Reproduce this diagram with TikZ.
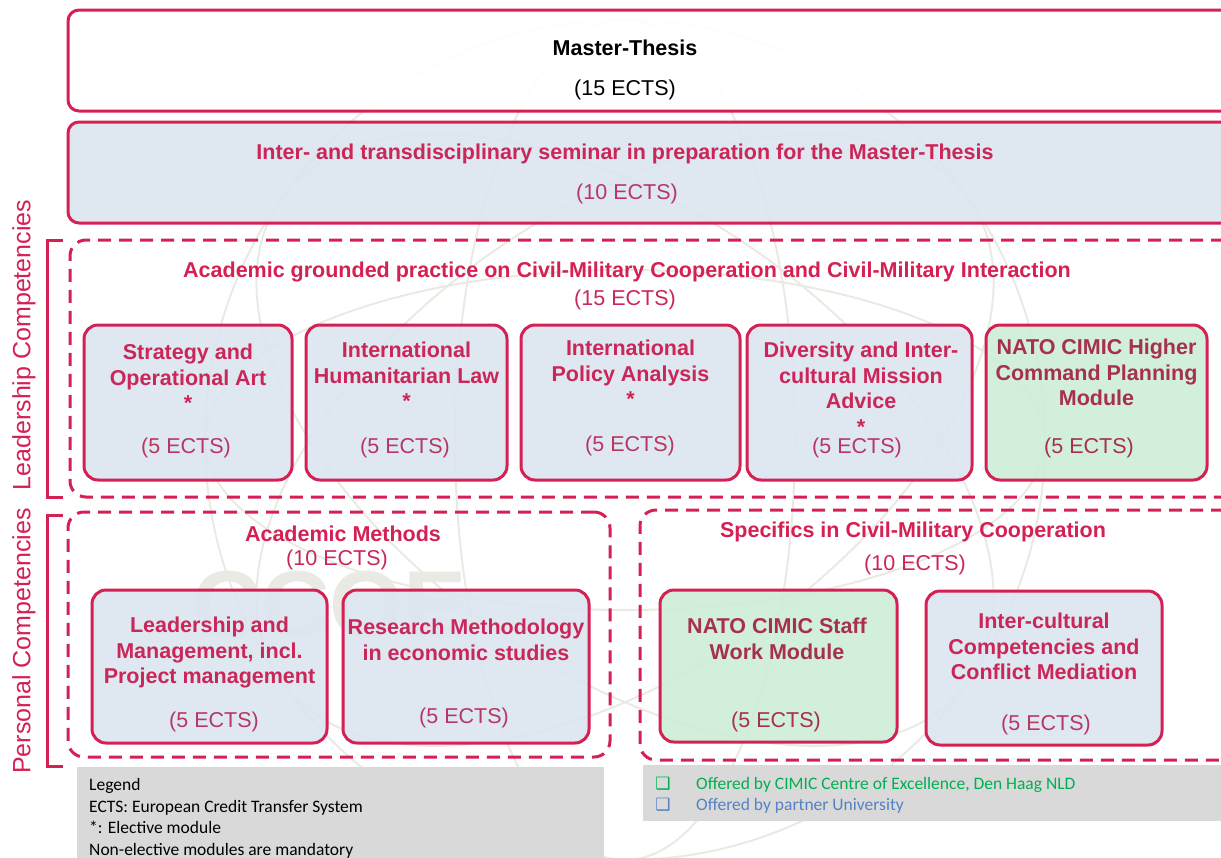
\documentclass[tikz,border=0pt]{standalone}
\usepackage{fontspec}
\setmainfont{Liberation Sans}
\newfontfamily\legendfont{Carlito}
\newfontfamily\boxglyph{DejaVu Sans}
\usetikzlibrary{positioning}
\definecolor{cimicred}{RGB}{213,32,84}
\definecolor{titlered}{RGB}{203,38,88}
\definecolor{ectsred}{RGB}{182,56,98}
\definecolor{darkred}{RGB}{166,48,78}
\definecolor{uniblue}{RGB}{220,229,240}
\definecolor{coegreen}{RGB}{205,238,216}
\definecolor{legendgray}{RGB}{217,217,217}
\definecolor{legendgreen}{RGB}{0,176,80}
\definecolor{legendblue}{RGB}{84,130,196}
\definecolor{watermark}{RGB}{234,234,228}

\begin{document}
\begin{tikzpicture}[x=1pt,y=-1pt,
	modbox/.style={draw=cimicred,line width=3pt,rounded corners=14pt,inner sep=0pt,fill opacity=0.92},
	grpbox/.style={draw=cimicred,line width=3pt,dash pattern=on 13pt off 8pt,rounded corners=16pt,inner sep=0pt},
	modtitle/.style={font=\fontsize{21.5}{25.5}\selectfont\bfseries,align=center,text=titlered,inner sep=0pt,anchor=north},
	ects/.style={font=\fontsize{21.5}{26}\selectfont,text=ectsred,inner sep=0pt,anchor=base},
	grptitle/.style={font=\fontsize{21.5}{26}\selectfont\bfseries,text=cimicred,inner sep=0pt,anchor=base},
	side/.style={font=\fontsize{25}{30}\selectfont,text=cimicred,rotate=90,inner sep=0pt},
	bracket/.style={draw=cimicred,line width=3pt},
	legend/.style={font=\legendfont\fontsize{17.5}{21.5}\selectfont,inner sep=0pt,anchor=base west},
	legmark/.style={font=\boxglyph\bfseries\fontsize{17}{17}\selectfont,inner sep=0pt,anchor=base}]
	\useasboundingbox (0,0) rectangle (1221,857);
	\clip (0,0) rectangle (1221,857);
	%\draw[help lines] (0,0) grid[step=100] (1221,857);
	% faint logo in the back
	\begin{scope}[draw=watermark,line width=2pt]
		\draw (625,440) circle[radius=420];
		\draw (625,440) ellipse[x radius=420,y radius=170];
		\draw (625,440) ellipse[x radius=170,y radius=420];
		\draw[rotate around={35:(625,440)}] (625,440) ellipse[x radius=420,y radius=230];
		\draw[rotate around={-35:(625,440)}] (625,440) ellipse[x radius=420,y radius=230];
	\end{scope}
	\node[font=\fontsize{95}{95}\selectfont\bfseries,text=watermark] (ccoe) at (330,605) {CCOE};

	% thesis and seminar
	\node[modbox,rounded corners=11pt,fill=white,minimum width=1164pt,minimum height=101pt] (thesis) at (650,60.5) {};
	\node[grptitle,text=black] (thesis-t) at (625,55.5) {Master-Thesis};
	\node[ects,text=black] (thesis-e) at (625,95.5) {(15 ECTS)};
	\node[modbox,rounded corners=11pt,fill=uniblue,minimum width=1164pt,minimum height=101pt] (seminar) at (650,172.5) {};
	\node[grptitle,text=titlered] (seminar-t) at (625,159.5) {Inter- and transdisciplinary seminar in preparation for the Master-Thesis};
	\node[ects] (seminar-e) at (627,199.5) {(10 ECTS)};

	% leadership competencies
	\node[grpbox,minimum width=1170pt,minimum height=257pt] (practice) at (655,368.5) {};
	\node[grptitle] (practice-t) at (627,277.5) {Academic grounded practice on Civil-Military Cooperation and Civil-Military Interaction};
	\node[ects,text=titlered] (practice-e) at (625,305.5) {(15 ECTS)};

	\node[modbox,fill=uniblue,minimum width=208pt,minimum height=155pt] (strategy) at (188,402.5) {};
	\node[modtitle] (strategy-t) at (188,344) {Strategy and\\Operational Art\\*};
	\node[ects] (strategy-e) at (186,453.5) {(5 ECTS)};

	\node[modbox,fill=uniblue,minimum width=201pt,minimum height=155pt] (ihl) at (406.5,402.5) {};
	\node[modtitle] (ihl-t) at (406.5,342) {International\\Humanitarian Law\\*};
	\node[ects] (ihl-e) at (405,453.5) {(5 ECTS)};

	\node[modbox,fill=uniblue,minimum width=219pt,minimum height=155pt] (policy) at (630.5,402.5) {};
	\node[modtitle] (policy-t) at (630.5,340) {International\\Policy Analysis\\*};
	\node[ects] (policy-e) at (630,451.5) {(5 ECTS)};

	\node[modbox,fill=uniblue,minimum width=225pt,minimum height=155pt] (diversity) at (859.5,402.5) {};
	\node[modtitle] (diversity-t) at (861,342) {Diversity and Inter-\\cultural Mission\\Advice\\*};
	\node[ects] (diversity-e) at (857,453.5) {(5 ECTS)};

	\node[modbox,fill=coegreen,minimum width=221pt,minimum height=155pt] (hcpm) at (1096.5,402.5) {};
	\node[modtitle,text=darkred] (hcpm-t) at (1096.5,339) {NATO CIMIC Higher\\Command Planning\\Module};
	\node[ects,text=darkred] (hcpm-e) at (1089,453.5) {(5 ECTS)};

	% personal competencies
	\node[grpbox,minimum width=542pt,minimum height=245pt] (methods) at (339,634.5) {};
	\node[grptitle] (methods-t) at (343,541.5) {Academic Methods};
	\node[ects,text=titlered] (methods-e) at (337,565.5) {(10 ECTS)};

	\node[modbox,fill=uniblue,minimum width=235pt,minimum height=153pt] (leadership) at (209.5,666.5) {};
	\node[modtitle] (leadership-t) at (209.5,617) {Leadership and\\Management, incl.\\Project management};
	\node[ects] (leadership-e) at (214,727.5) {(5 ECTS)};

	\node[modbox,fill=uniblue,minimum width=246pt,minimum height=153pt] (research) at (466,666.5) {};
	\node[modtitle] (research-t) at (466,619) {Research Methodology\\in economic studies};
	\node[ects] (research-e) at (464,723.5) {(5 ECTS)};

	\node[grpbox,minimum width=600pt,minimum height=250pt] (specifics) at (940,635) {};
	\node[grptitle] (specifics-t) at (913,537.5) {Specifics in Civil-Military Cooperation};
	\node[ects,text=titlered] (specifics-e) at (915,570.5) {(10 ECTS)};

	\node[modbox,fill=coegreen,minimum width=237pt,minimum height=152pt] (staff) at (778.5,666) {};
	\node[modtitle,text=darkred] (staff-t) at (777,618) {NATO CIMIC Staff\\Work Module};
	\node[ects,text=darkred] (staff-e) at (776,727.5) {(5 ECTS)};

	\node[modbox,fill=uniblue,minimum width=236pt,minimum height=154pt] (mediation) at (1044,668) {};
	\node[modtitle] (mediation-t) at (1044,613) {Inter-cultural\\Competencies and\\Conflict Mediation};
	\node[ects] (mediation-e) at (1046,730.5) {(5 ECTS)};

	% side labels
	\draw[bracket] (63,240) -- (47,240) -- (47,497) -- (63,497);
	\node[side] (lead-lbl) at (24,345) {Leadership Competencies};
	\draw[bracket] (63,515) -- (47,515) -- (47,766) -- (63,766);
	\node[side] (pers-lbl) at (24,641) {Personal Competencies};

	% legend
	\fill[legendgray] (77,767) rectangle (604,870);
	\node[legend] (leg1) at (89,790.5) {Legend};
	\node[legend] (leg2) at (89,812) {ECTS: European Credit Transfer System};
	\node[legend] (leg3) at (89,833.5) {*: Elective module};
	\node[legend] (leg4) at (89,855) {Non-elective modules are mandatory};
	\fill[legendgray] (643,765) rectangle (1230,821);
	\node[legmark,text=legendgreen] (mark-coe) at (663,789) {❑};
	\node[legend,text=legendgreen] (leg-coe) at (696,789) {Offered by CIMIC Centre of Excellence, Den Haag NLD};
	\node[legmark,text=legendblue] (mark-uni) at (663,810) {❑};
	\node[legend,text=legendblue] (leg-uni) at (696,810) {Offered by partner University};
\end{tikzpicture}
\end{document}
